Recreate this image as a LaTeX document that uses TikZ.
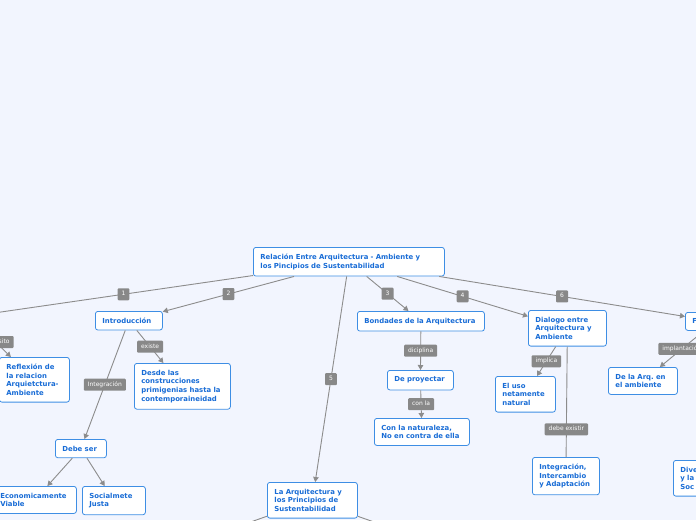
\documentclass[tikz,border=0pt]{standalone}
\usepackage{fontspec}
\setmainfont{DejaVu Sans}
\usetikzlibrary{arrows.meta}
\frenchspacing

\definecolor{fondo}{RGB}{242,245,254}
\definecolor{borde}{RGB}{62,142,228}
\definecolor{azul}{RGB}{24,108,214}
\definecolor{gris}{RGB}{140,140,140}
\definecolor{grisetiq}{RGB}{136,136,136}

\begin{document}
\begin{tikzpicture}[x=1pt,y=-1pt,
    tema/.style={draw=borde, fill=white, rounded corners=2.5pt, line width=.8pt,
        text=azul, anchor=north west, align=left, inner xsep=7pt, inner ysep=6.5pt,
        font=\bfseries\fontsize{6.9}{8.7}\selectfont},
    rama/.style={draw=gris, line width=.9pt},
    flecha/.style={rama, -{Triangle[length=5pt,width=5.5pt]}},
    etiq/.style={fill=grisetiq, text=white, rounded corners=1pt, inner xsep=4pt,
        inner ysep=3pt, minimum width=11pt, text height=4.5pt, text depth=1.5pt,
        font=\fontsize{6}{7}\selectfont, pos=.5}]

    \useasboundingbox (0,0) rectangle (696,520);
    \fill[fondo] (0,0) rectangle (696,520);
    \clip (0,0) rectangle (696,520);

    % temas
    \node[tema, text width=177pt] (raiz) at (253,247)
        {Relación Entre Arquitectura - Ambiente y\\los Pincipios de Sustentabilidad};
    \node[tema, text width=53pt]  (intro)   at (95,311)  {Introducción};
    \node[tema, text width=56pt]  (reflex)  at (-1,357)  {Reflexión de\\la relacion\\Arquietctura-\\Ambiente};
    \node[tema, text width=82pt]  (desde)   at (134,363) {Desde las\\construcciones\\primigenias hasta la\\contemporaineidad};
    \node[tema, text width=37pt]  (debe)    at (55,439)  {Debe ser};
    \node[tema, text width=69pt]  (econ)    at (-7,486)  {Economicamente\\Viable};
    \node[tema, text width=49pt]  (social)  at (82,486)  {Socialmete\\Justa};
    \node[tema, text width=76pt]  (laarq)   at (267,482) {La Arquitectura y\\los Principios de\\Sustentabilidad};
    \node[tema, text width=113pt] (bond)    at (357,311) {Bondades de la Arquitectura};
    \node[tema, text width=52pt]  (proy)    at (387,370) {De proyectar};
    \node[tema, text width=81pt]  (conla)   at (374,418) {Con la naturaleza,\\No en contra de ella};
    \node[tema, text width=64pt]  (dialogo) at (528,310) {Dialogo entre\\Arquitectura y\\Ambiente};
    \node[tema, text width=46pt]  (eluso)   at (495,376) {El uso\\netamente\\natural};
    \node[tema, text width=53pt]  (integ)   at (532,457) {Integración,\\Intercambio\\y Adaptación};
    \node[tema, text width=55pt]  (delaarq) at (608,367) {De la Arq. en\\el ambiente};
    \node[tema, text width=46pt]  (fnodo)   at (685,312) {F};
    \node[tema, text width=56pt]  (dive)    at (673,460) {Dive\\y la\\Soc};

    % extremos fuera del cuadro
    \coordinate (izq)      at (-6,313);
    \coordinate (izqb)     at (-20,327);
    \coordinate (abajoizq) at (100,575);
    \coordinate (abajoder) at (524,575);

    % ramas
    \draw[flecha] (raiz) -- (izq)     node[etiq] {1};
    \draw[flecha] (raiz) -- (intro)   node[etiq] {2};
    \draw[flecha] (raiz) -- (bond)    node[etiq] {3};
    \draw[flecha] (raiz) -- (dialogo) node[etiq] {4};
    \draw[flecha] (raiz) -- (laarq)   node[etiq] {5};
    \draw[flecha] (raiz) -- (fnodo)   node[etiq] {6};

    \draw[flecha] (izqb) -- (reflex)   node[etiq] {propósito};
    \draw[flecha] (intro) -- (desde)   node[etiq] {existe};
    \draw[flecha] (intro) -- (debe)    node[etiq] {Integración};
    \draw[flecha] (debe) -- (econ);
    \draw[flecha] (debe) -- (social);
    \draw[flecha] (laarq) -- (abajoizq);
    \draw[flecha] (laarq) -- (abajoder);

    \draw[flecha] (bond) -- (proy)     node[etiq] {diciplina};
    \draw[flecha] (proy) -- (conla)    node[etiq] {con la};

    \draw[flecha] (dialogo) -- (eluso) node[etiq] {implica};
    \draw[rama] (dialogo) -- (integ)   node[etiq, pos=.75] {debe existir};
    \draw[flecha] (fnodo) -- (delaarq) node[etiq] {implantación};
\end{tikzpicture}
\end{document}
